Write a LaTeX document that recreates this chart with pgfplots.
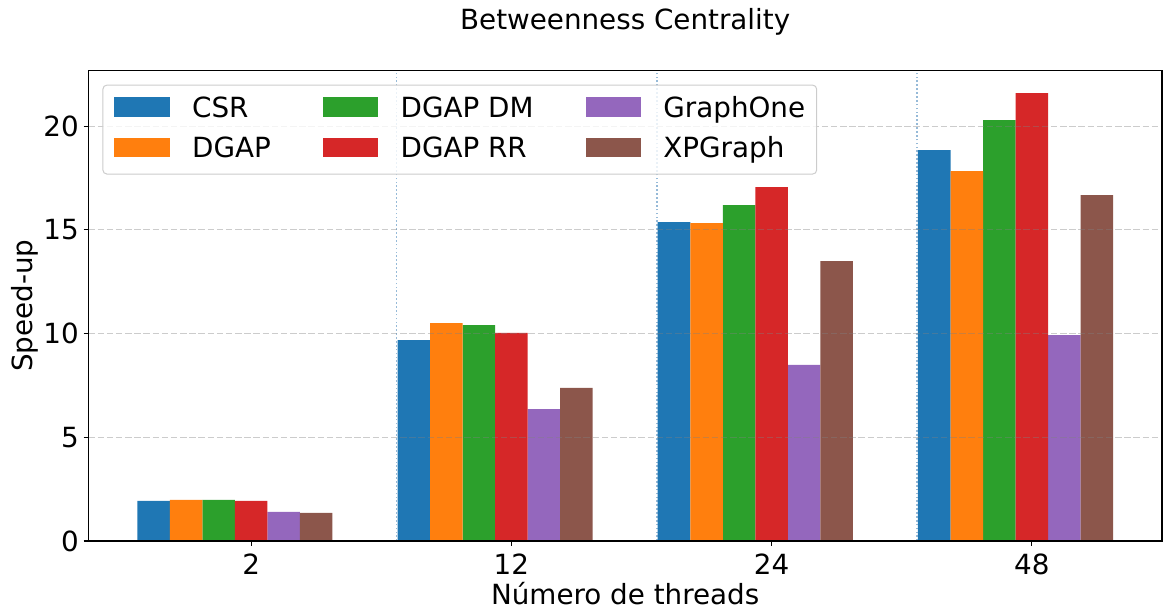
\documentclass[border=0pt]{standalone}
\usepackage{fontspec}
\setmainfont{DejaVu Sans}
\usepackage{pgfplots}
\pgfplotsset{compat=1.18}
\definecolor{c0}{HTML}{1F77B4}
\definecolor{c1}{HTML}{FF7F0E}
\definecolor{c2}{HTML}{2CA02C}
\definecolor{c3}{HTML}{D62728}
\definecolor{c4}{HTML}{9467BD}
\definecolor{c5}{HTML}{8C564B}
\definecolor{vline}{RGB}{150,186,216}
\definecolor{legframe}{RGB}{204,204,204}
\newcommand{\bigf}{\fontsize{20}{24}\selectfont}
\begin{document}
\begin{tikzpicture}
\begin{axis}[
  at={(0,0)}, anchor=south west,
  scale only axis, width=772.9pt, height=338.6pt,
  xmin=-0.625, xmax=3.5, ymin=0, ymax=22.68,
  xtick={0,1,2,3}, xticklabels={2,12,24,48},
  ytick={0,5,10,15,20},
  xtick pos=bottom, ytick pos=left,
  tick align=outside, major tick length=3.5pt,
  tick style={black, line width=0.8pt},
  axis line style={line width=0.8pt},
  every tick label/.append style={font=\bigf},
  /pgf/number format/assume math mode=true,
  xticklabel style={anchor=base, yshift=-20.3pt},
  ymajorgrids,
  grid style={gray, opacity=0.4, dash pattern=on 4.6pt off 2pt, line width=0.8pt},
  axis on top,
  title={Betweenness Centrality},
  title style={font=\bigf, at={(axis description cs:0.5,1)}, anchor=base, yshift=23.5pt},
  xlabel={Número de threads},
  xlabel style={font=\bigf, at={(axis description cs:0.5,0)}, anchor=base, yshift=-45.4pt},
  ylabel={Speed-up},
  ylabel style={font=\bigf, at={(axis description cs:-0.0517,0.5)}, anchor=base},
  legend columns=3,
  legend style={at={(axis description cs:0,1)}, anchor=north west, xshift=10pt, yshift=-10pt,
    draw=legframe, line width=0.72pt, rounded corners=3pt, fill=white, fill opacity=0.8,
    text opacity=1, draw opacity=1, inner xsep=8.3pt, inner ysep=2.85pt, font=\bigf,
    column sep=0pt,
    /tikz/every odd column/.append style={column sep=16pt},
    /tikz/every even column/.append style={column sep=37.5pt},
    nodes={inner sep=0pt, text height=20.35pt, text depth=8.85pt, anchor=base west}},
  legend image code/.code={\fill[#1, fill opacity=1, draw=none, sharp corners] (0pt,0.3pt) rectangle (40pt,14.3pt);},
]
\addplot[forget plot, mark=none, color=vline, line width=1.1pt, dash pattern=on 1.2pt off 1.6pt] coordinates {(0.5595,0) (0.5595,22.68)};
\addplot[forget plot, mark=none, color=vline, line width=1.1pt, dash pattern=on 1.2pt off 1.6pt] coordinates {(1.5595,0) (1.5595,22.68)};
\addplot[forget plot, mark=none, color=vline, line width=1.1pt, dash pattern=on 1.2pt off 1.6pt] coordinates {(2.5595,0) (2.5595,22.68)};
% legend order: row-wise CSR, DGAP DM, GraphOne / DGAP, DGAP RR, XPGraph
\addplot[ybar, bar width=0.125, bar shift=-0.375, fill=c0, draw=none] coordinates {(0,1.93) (1,9.69) (2,15.38) (3,18.85)};
\addlegendentry{CSR}
\addplot[ybar, bar width=0.125, bar shift=-0.125, fill=c2, draw=none] coordinates {(0,1.98) (1,10.41) (2,16.20) (3,20.30)};
\addlegendentry{DGAP DM}
\addplot[ybar, bar width=0.125, bar shift=0.125, fill=c4, draw=none] coordinates {(0,1.40) (1,6.36) (2,8.49) (3,9.93)};
\addlegendentry{GraphOne}
\addplot[ybar, bar width=0.125, bar shift=-0.25, fill=c1, draw=none] coordinates {(0,1.98) (1,10.51) (2,15.33) (3,17.84)};
\addlegendentry{DGAP}
\addplot[ybar, bar width=0.125, bar shift=0, fill=c3, draw=none] coordinates {(0,1.93) (1,10.03) (2,17.07) (3,21.60)};
\addlegendentry{DGAP RR}
\addplot[ybar, bar width=0.125, bar shift=0.25, fill=c5, draw=none] coordinates {(0,1.35) (1,7.38) (2,13.50) (3,16.68)};
\addlegendentry{XPGraph}
\end{axis}
\pgfresetboundingbox
\path[use as bounding box] (-63.7pt,-51.1pt) rectangle (775.1pt,389.5pt);
\end{tikzpicture}
\end{document}
